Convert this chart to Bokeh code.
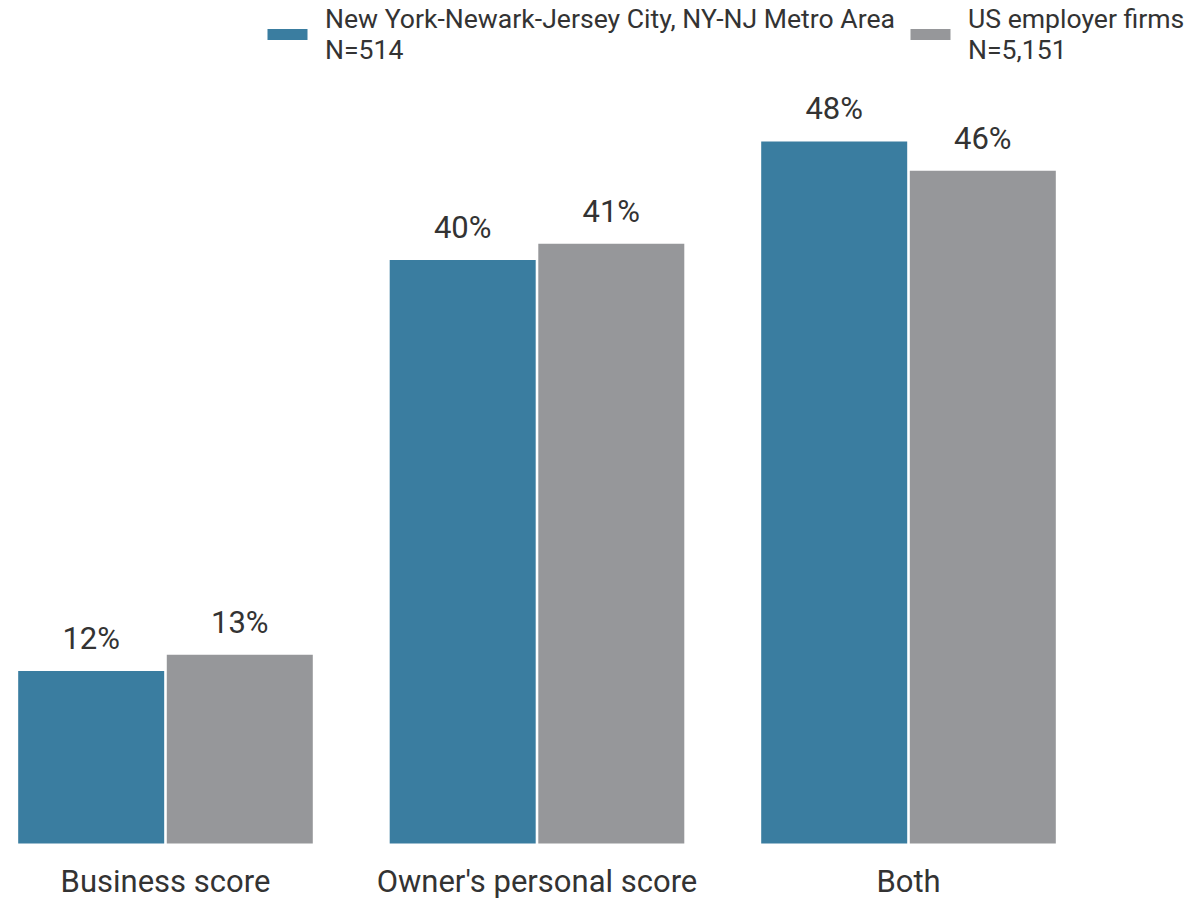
from bokeh.plotting import figure
from bokeh.models import ColumnDataSource, FactorRange, Range1d, LabelSet, Legend, LegendItem
from bokeh.core.properties import value
from bokeh.transform import dodge
from bokeh.embed import file_html
from bokeh.resources import INLINE

categories = ["Business score", "Owner's personal score", "Both"]
ny_values = [11.8, 39.9, 48.0]
us_values = [12.9, 41.0, 46.0]
ny_name = "New York-Newark-Jersey City, NY-NJ Metro Area\nN=514"
us_name = "US employer firms\nN=5,151"

BLUE = "#3a7da0"
GRAY = "#96979a"
TEXT = "#333333"
FONT = "Roboto"

src = ColumnDataSource(dict(
    cat=categories,
    ny=ny_values,
    us=us_values,
    ny_lbl=[f"{v:.0f}%" for v in ny_values],
    us_lbl=[f"{v:.0f}%" for v in us_values],
))

W, H = 1197, 899
SHIFT = -0.1669      # group offset so bars sit left of centre, legend spans full width
HALF = 0.2           # half distance between the two bars of a group

p = figure(width=W, height=H, output_backend="svg", toolbar_location=None,
           x_range=FactorRange(*categories),
           y_range=Range1d(-3.83, 57.64),
           x_axis_location=None, y_axis_location=None,
           min_border_left=0, min_border_right=0, min_border_top=0, min_border_bottom=0)
p.x_range.range_padding = 0.111
p.x_range.range_padding_units = "absolute"

r1 = p.vbar(x=dodge("cat", SHIFT - HALF, range=p.x_range), top="ny", width=0.393, source=src,
            fill_color=BLUE, line_color=None)
r2 = p.vbar(x=dodge("cat", SHIFT + HALF, range=p.x_range), top="us", width=0.393, source=src,
            fill_color=GRAY, line_color=None)

for col, top, off in (("ny_lbl", "ny", SHIFT - HALF), ("us_lbl", "us", SHIFT + HALF)):
    p.add_layout(LabelSet(x=dodge("cat", off, range=p.x_range), y=top, text=col, source=src,
                          text_align="center", text_baseline="alphabetic", y_offset=22,
                          text_font=value(FONT), text_font_size=value("31px"),
                          text_color=TEXT))

# category labels under each group
p.add_layout(LabelSet(x=dodge("cat", SHIFT, range=p.x_range), y=0, text="cat", source=src,
                      text_align="center", text_baseline="alphabetic", y_offset=-49,
                      text_font=value(FONT), text_font_size=value("31px"),
                      text_color=TEXT))

legend = Legend(items=[LegendItem(label=ny_name, renderers=[r1]),
                       LegendItem(label=us_name, renderers=[r2])],
                orientation="horizontal", location=(262, 834),
                label_text_font=FONT, label_text_font_size="26.6px", label_text_color=TEXT,
                label_text_line_height=1.07,
                glyph_width=50, glyph_height=14, label_standoff=13, spacing=10,
                padding=0, margin=0, border_line_color=None, background_fill_alpha=0)
p.add_layout(legend, "center")

p.xgrid.visible = False
p.ygrid.visible = False
p.outline_line_color = None

open("out.html", "w").write(file_html(p, INLINE))
